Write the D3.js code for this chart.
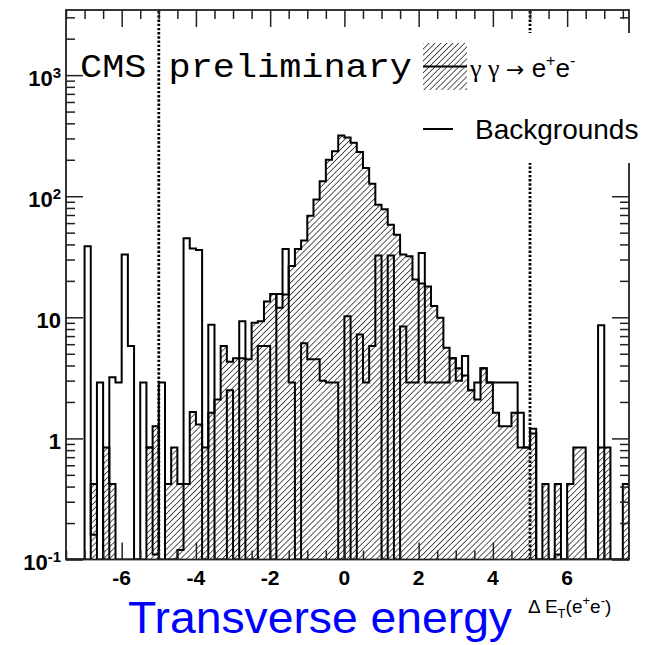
<!DOCTYPE html>
<html>
<head>
<meta charset="utf-8">
<script src="https://cdn.jsdelivr.net/npm/d3@7"></script>
<style>
  html, body { margin: 0; padding: 0; background: #fff; }
  svg { display: block; }
</style>
</head>
<body>
<svg id="chart" width="655" height="645"></svg>
<script>
// Histogram binning: 91 bins of width 1/6 starting at -7.5
const xLow = -7.5;
const binWidth = 1 / 6;

// gamma gamma -> e+e- (hatched)
const signal = [
  0, 0, 0, 0, 0.42, 0, 0.84, 0.42, 0, 0,
  0, 0, 0, 0.84, 1.26, 0, 0.42, 0.84, 0.42, 0.42,
  1.65, 1.3, 0.84, 1.63, 2.1, 5.8, 4.3, 4.6, 4.6, 4.5,
  9.0, 9.3, 13.5, 15.6, 12, 15.4, 26.5, 36.6, 43, 69,
  94, 133, 200, 235, 318, 305, 276, 232, 171, 127,
  85, 78, 58, 48, 33, 32, 20.5, 19, 18, 12.4,
  9.9, 5.6, 4.6, 3.8, 3.3, 2.5, 2.1, 3.8, 2.9, 1.63,
  1.26, 1.26, 1.63, 0.84, 0.84, 1.1, 0, 0.42, 0, 0.42,
  0, 0.42, 0.84, 0.84, 0, 0, 0.84, 0.84, 0, 0,
  0.42
];

// Backgrounds (outline only)
const backgrounds = [
  0, 0, 0, 38.6, 0.16, 2.9, 0, 3.2, 2.9, 33,
  5.8, 0, 2.9, 0.84, 0.11, 2.9, 0, 0, 0.12, 45,
  37, 36, 0, 8.7, 0, 0, 2.5, 0, 9.3, 0,
  0, 5.8, 5.8, 0, 15.6, 36.6, 2.9, 0, 6.1, 4.5,
  4.5, 3.0, 2.9, 2.9, 0, 10.2, 0, 7.2, 2.9, 5.8,
  32.4, 0, 32.4, 0, 8.4, 2.9, 2.9, 34, 2.9, 2.9,
  2.9, 2.9, 4.6, 3.0, 4.8, 2.5, 2.9, 3.8, 2.9, 2.9,
  2.9, 2.9, 2.9, 1.63, 0.84, 1.2, 0, 0, 0, 0.11,
  0, 0, 0, 0, 0, 0, 8.6, 0, 0, 0,
  0
];

// Axis ticks and labels
const xMajorTicks = [-6, -4, -2, 0, 2, 4, 6];
const xTickLabels = ["-6", "-4", "-2", "0", "2", "4", "6"];
const yMajorTicks = [0.1, 1, 10, 100, 1000];
const yTickBase = ["10", "1", "10", "10", "10"];
const yTickExp = ["-1", "", "", "2", "3"];
const cutValues = [-5, 5];

const yMin = 0.1, yMax = 3450;

const svg = d3.select("#chart");
const frame = { left: 66, right: 629, top: 10, bottom: 559.5 };

const x = d3.scaleLinear()
  .domain([xLow, xLow + signal.length * binWidth])
  .range([frame.left, frame.right]);
const y = d3.scaleLog()
  .domain([yMin, yMax])
  .range([frame.bottom, frame.top]);

// hatch pattern for the signal fill
const defs = svg.append("defs");
const hatch = defs.append("pattern")
  .attr("id", "hatch")
  .attr("patternUnits", "userSpaceOnUse")
  .attr("width", 4.2).attr("height", 4.2)
  .attr("patternTransform", "rotate(45)");
hatch.append("line")
  .attr("x1", 2.1).attr("y1", 0).attr("x2", 2.1).attr("y2", 4.2)
  .attr("stroke", "#3a3a3a").attr("stroke-width", 0.85);

defs.append("clipPath").attr("id", "plotClip")
  .append("rect")
  .attr("x", frame.left).attr("y", frame.top)
  .attr("width", frame.right - frame.left)
  .attr("height", frame.bottom - frame.top);

// step outline of a histogram; empty bins drop to the bottom of the frame
function stepPoints(vals) {
  const pts = [[x(xLow), frame.bottom]];
  vals.forEach((v, i) => {
    const yv = v > 0 ? Math.min(frame.bottom, y(Math.max(v, yMin))) : frame.bottom;
    pts.push([x(xLow + i * binWidth), yv]);
    pts.push([x(xLow + (i + 1) * binWidth), yv]);
  });
  pts.push([x(xLow + vals.length * binWidth), frame.bottom]);
  return pts;
}
const line = d3.line();

const plot = svg.append("g").attr("clip-path", "url(#plotClip)");

plot.append("path")
  .attr("d", line(stepPoints(signal)) + "Z")
  .attr("fill", "url(#hatch)")
  .attr("stroke", "none");

plot.append("path")
  .attr("d", line(stepPoints(signal)))
  .attr("fill", "none")
  .attr("stroke", "#000")
  .attr("stroke-width", 2)
  .attr("stroke-linejoin", "miter");

plot.append("path")
  .attr("d", line(stepPoints(backgrounds)))
  .attr("fill", "none")
  .attr("stroke", "#000")
  .attr("stroke-width", 2)
  .attr("stroke-linejoin", "miter");

// selection cuts
plot.selectAll("line.cut")
  .data(cutValues)
  .join("line")
  .attr("class", "cut")
  .attr("x1", d => x(d)).attr("x2", d => x(d))
  .attr("y1", frame.bottom).attr("y2", frame.top)
  .attr("stroke", "#000")
  .attr("stroke-width", 2.8)
  .attr("stroke-dasharray", "2.4,1.8");

// ticks on all four sides, pointing inwards
const xMinor = d3.range(-15, 16).map(d => d / 2).filter(d => !xMajorTicks.includes(d));
const yMinor = [];
[0.1, 1, 10, 100, 1000].forEach(dec => {
  for (let m = 2; m <= 9; m++) if (dec * m <= yMax) yMinor.push(dec * m);
});

function addAxis(gen, tx, ty, vals, size) {
  const g = svg.append("g")
    .attr("transform", `translate(${tx},${ty})`)
    .call(gen.tickValues(vals).tickSize(size).tickFormat(""));
  g.select(".domain").remove();
  g.selectAll(".tick line").attr("stroke", "#222").attr("stroke-width", 1.5);
}
addAxis(d3.axisBottom(x), 0, frame.bottom, xMinor, -9);
addAxis(d3.axisBottom(x), 0, frame.bottom, xMajorTicks, -17);
addAxis(d3.axisTop(x), 0, frame.top, xMinor, -9);
addAxis(d3.axisTop(x), 0, frame.top, xMajorTicks, -17);
addAxis(d3.axisLeft(y), frame.left, 0, yMinor, -9);
addAxis(d3.axisLeft(y), frame.left, 0, yMajorTicks, -17);
addAxis(d3.axisRight(y), frame.right, 0, yMinor, -9);
addAxis(d3.axisRight(y), frame.right, 0, yMajorTicks, -17);

// frame
svg.append("rect")
  .attr("x", frame.left).attr("y", frame.top)
  .attr("width", frame.right - frame.left)
  .attr("height", frame.bottom - frame.top)
  .attr("fill", "none")
  .attr("stroke", "#222")
  .attr("stroke-width", 1.8);

// tick labels
svg.append("g").selectAll("text")
  .data(xMajorTicks)
  .join("text")
  .attr("x", d => x(d))
  .attr("y", 584.5)
  .attr("text-anchor", "middle")
  .attr("font-family", "Liberation Sans, Arial, sans-serif")
  .attr("font-weight", "bold")
  .attr("font-size", 21)
  .text((d, i) => xTickLabels[i]);

const yLab = svg.append("g").selectAll("text")
  .data(yMajorTicks)
  .join("text")
  .attr("x", 61)
  .attr("y", d => y(d) + 10.5)
  .attr("text-anchor", "end")
  .attr("font-family", "Liberation Sans, Arial, sans-serif")
  .attr("font-weight", "bold")
  .attr("font-size", 22);
yLab.append("tspan").text((d, i) => yTickBase[i]);
yLab.append("tspan")
  .attr("font-size", 15)
  .attr("dy", -8)
  .text((d, i) => yTickExp[i]);

// CMS label
svg.append("text")
  .attr("x", 80).attr("y", 77)
  .attr("font-family", "Liberation Mono, DejaVu Sans Mono, monospace")
  .attr("font-size", 34)
  .attr("textLength", 332)
  .attr("lengthAdjust", "spacingAndGlyphs")
  .text("CMS preliminary");

// legend
const leg = svg.append("g");
leg.append("rect")
  .attr("x", 418).attr("y", 33).attr("width", 237).attr("height", 130)
  .attr("fill", "#fff");
leg.append("rect")
  .attr("x", 423).attr("y", 43).attr("width", 44).attr("height", 47)
  .attr("fill", "url(#hatch)");
leg.append("line")
  .attr("x1", 423).attr("x2", 467).attr("y1", 66.5).attr("y2", 66.5)
  .attr("stroke", "#000").attr("stroke-width", 2);
const sigText = leg.append("text")
  .attr("x", 470).attr("y", 77)
  .attr("font-family", "Liberation Sans, Arial, sans-serif")
  .attr("font-size", 26);
sigText.append("tspan").attr("font-family", "Liberation Serif, serif").text("γ γ ");
sigText.append("tspan").attr("font-family", "DejaVu Sans, sans-serif").attr("font-size", 22).text("→");
sigText.append("tspan").text(" e");
sigText.append("tspan").attr("font-size", 16).attr("dy", -11).text("+");
sigText.append("tspan").attr("dy", 11).text("e");
sigText.append("tspan").attr("font-size", 16).attr("dy", -11).text("-");

leg.append("line")
  .attr("x1", 423).attr("x2", 453).attr("y1", 129).attr("y2", 129)
  .attr("stroke", "#000").attr("stroke-width", 2);
leg.append("text")
  .attr("x", 475).attr("y", 138.5)
  .attr("font-family", "Liberation Sans, Arial, sans-serif")
  .attr("font-size", 28)
  .text("Backgrounds");

// x axis title
const xt = svg.append("text")
  .attr("x", 528).attr("y", 612.5)
  .attr("font-family", "Liberation Sans, Arial, sans-serif")
  .attr("font-size", 19);
xt.append("tspan").text("Δ E");
xt.append("tspan").attr("font-size", 13).attr("dy", 5).text("T");
xt.append("tspan").attr("dy", -5).text("(e");
xt.append("tspan").attr("font-size", 13).attr("dy", -8).text("+");
xt.append("tspan").attr("dy", 8).text("e");
xt.append("tspan").attr("font-size", 13).attr("dy", -8).text("-");
xt.append("tspan").attr("dy", 8).text(")");

// caption
svg.append("text")
  .attr("x", 128).attr("y", 633)
  .attr("font-family", "Liberation Sans, Arial, sans-serif")
  .attr("font-size", 45)
  .attr("textLength", 384)
  .attr("lengthAdjust", "spacingAndGlyphs")
  .attr("fill", "#0000ff")
  .text("Transverse energy");
</script>
</body>
</html>
